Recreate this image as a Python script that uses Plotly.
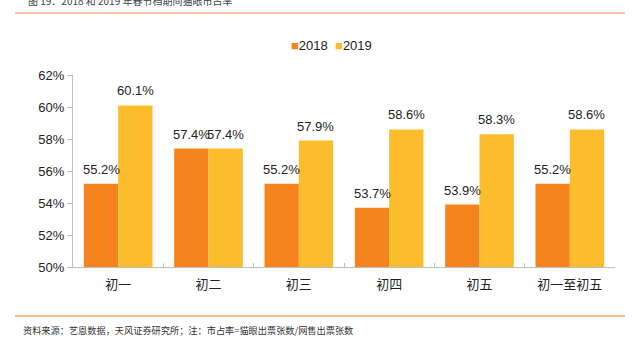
import plotly.graph_objects as go

categories = ["初一", "初二", "初三", "初四", "初五", "初一至初五"]
share_2018 = [55.2, 57.4, 55.2, 53.7, 53.9, 55.2]
share_2019 = [60.1, 57.4, 57.9, 58.6, 58.3, 58.6]
y_ticks = [50, 52, 54, 56, 58, 60, 62]

ORANGE = "#F5841F"
YELLOW = "#FBBD2C"
FONT = "Liberation Sans, Arial, Noto Sans CJK SC, sans-serif"
CJK = "Noto Sans CJK SC, sans-serif"

L, R, T, B = 73, 27, 75, 84
W, H = 642, 351
ph = H - T - B
pw = W - L - R
BARGAP = 0.24
bar_px = pw / len(categories) * (1 - BARGAP) / 2

def py(p):
    return (H - B - p) / ph

def px(p):
    return (p - L) / pw

fig = go.Figure()
annotations = []
for i, (name, vals, col) in enumerate([("2018", share_2018, ORANGE), ("2019", share_2019, YELLOW)]):
    fig.add_trace(go.Bar(name=name, x=categories, y=vals,
                         marker=dict(color=col, line=dict(width=0))))
    shift = (i - 0.5) * bar_px
    for c, v in zip(categories, vals):
        annotations.append(dict(x=c, y=v, xref="x", yref="y", text=f"{v:.1f}%",
                                showarrow=False, xanchor="center", yanchor="bottom",
                                xshift=shift, yshift=5,
                                font=dict(size=13, color="#222", family=FONT)))

annotations += [
    dict(text="图 19：2018 和 2019 年春节档期间猫眼市占率", xref="paper", yref="paper",
         x=px(26), y=py(0), xanchor="left", yanchor="middle", showarrow=False,
         font=dict(size=10, family=CJK, color="#444")),
    dict(text="资料来源：艺恩数据，天风证券研究所；注：市占率=猫眼出票张数/网售出票张数",
         xref="paper", yref="paper", x=px(21), y=py(330), xanchor="left", yanchor="middle",
         showarrow=False, font=dict(size=9.2, family=CJK, color="#333")),
    dict(text=f'<span style="color:{ORANGE}">■</span>2018  <span style="color:{YELLOW}">■</span>2019',
         xref="paper", yref="paper", x=px(331), y=py(45), xanchor="center", yanchor="middle",
         showarrow=False, font=dict(size=13, family=FONT, color="#222")),
]

fig.update_layout(
    width=W, height=H, margin=dict(l=L, r=R, t=T, b=B),
    paper_bgcolor="white", plot_bgcolor="white",
    barmode="group", bargap=BARGAP, bargroupgap=0,
    showlegend=False,
    xaxis=dict(showline=True, linecolor="#BFBFBF", linewidth=1, ticks="inside",
               tickson="boundaries", ticklen=4, tickcolor="#BFBFBF",
               ticklabelstandoff=5,
               tickfont=dict(size=13, family=CJK, color="#222")),
    yaxis=dict(range=[50, 62], tickvals=y_ticks, ticktext=[f"{t}%" for t in y_ticks],
               showline=True, linecolor="#BFBFBF", linewidth=1, ticks="outside",
               ticklen=5, tickcolor="#BFBFBF", showgrid=False, zeroline=False,
               tickfont=dict(size=13, family=FONT, color="#222")),
    shapes=[
        dict(type="line", xref="paper", yref="paper", x0=px(15), x1=px(625), y0=py(13), y1=py(13),
             line=dict(color="#F4B183", width=1.5)),
        dict(type="line", xref="paper", yref="paper", x0=px(15), x1=px(625), y0=py(316), y1=py(316),
             line=dict(color="#F4A460", width=1.5)),
    ],
    annotations=annotations,
)

fig.write_html("out.html")
